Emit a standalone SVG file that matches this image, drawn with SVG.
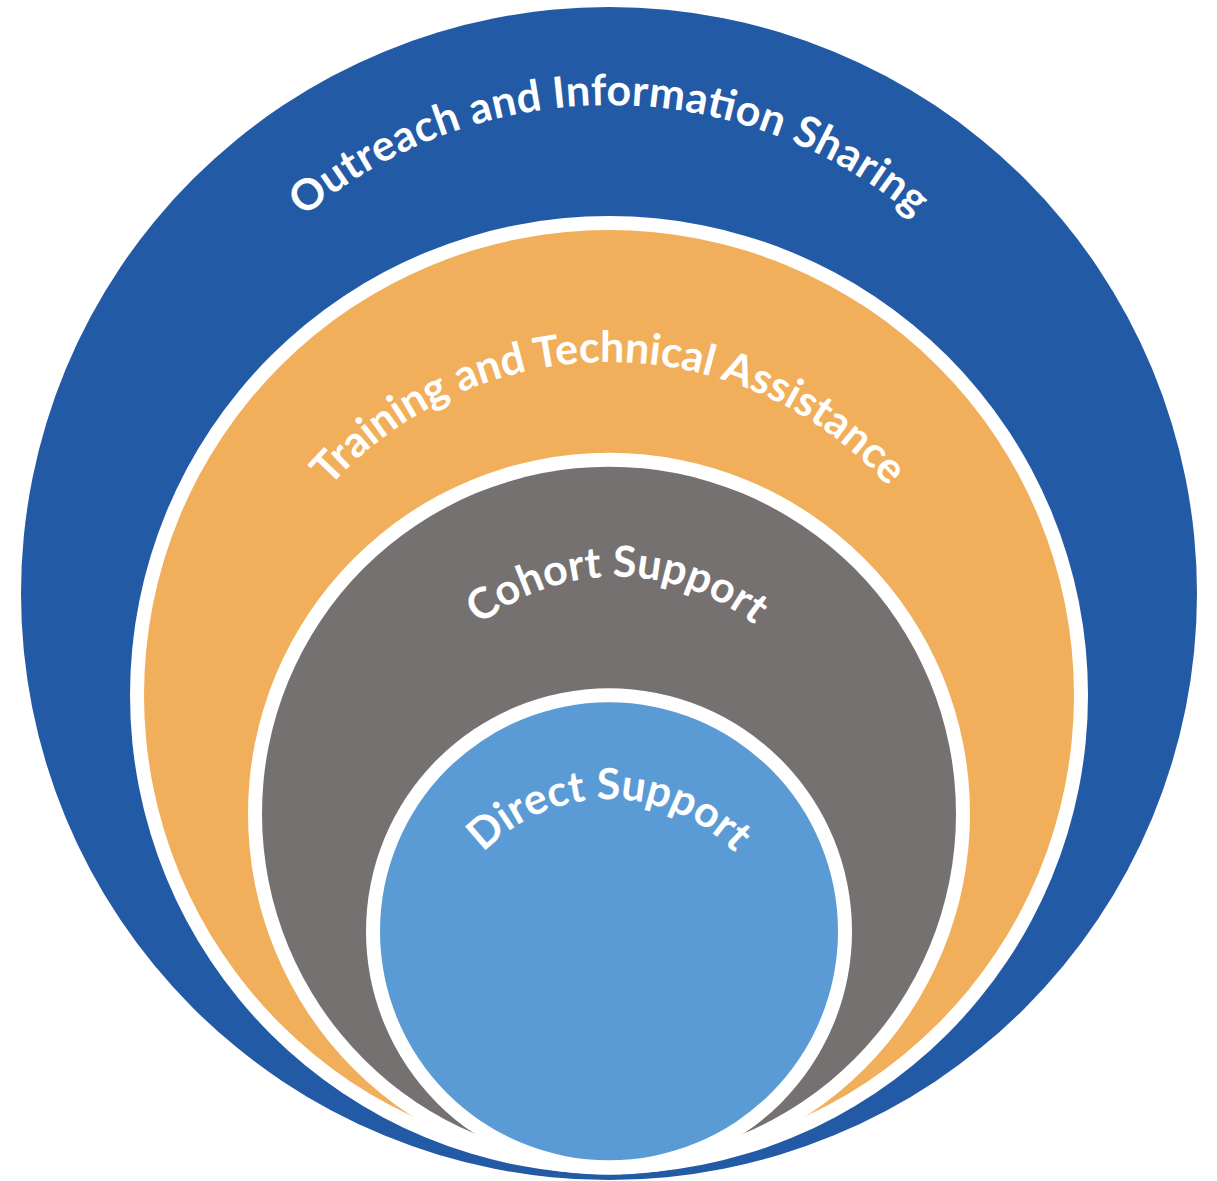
<svg xmlns="http://www.w3.org/2000/svg" width="1217" height="1181" viewBox="0 0 1217 1181">
<style>
.lbl{font-family:Lato,"Open Sans","Liberation Sans",sans-serif;font-weight:700;fill:#ffffff;}
.ring{fill:#ffffff;}
</style>
<defs>
<path id="arc1" d="M 144.2 495 A 472 472 0 0 1 1073.8 495"/>
<path id="arc2" d="M 239.7 671.9 A 375 375 0 0 1 978.3 671.9"/>
<path id="arc3" d="M 400.3 758.8 A 220 220 0 0 1 833.7 758.8"/>
<path id="arc4" d="M 437.1 943.7 A 174.5 174.5 0 0 1 780.9 943.7"/>
</defs>
<rect width="1217" height="1181" fill="#ffffff"/>
<g id="outreach">
<ellipse cx="609" cy="593.5" rx="588" ry="586.5" fill="#235AA6"/>
<text class="lbl" font-size="43"><textPath href="#arc1" startOffset="50%" text-anchor="middle" textLength="664" lengthAdjust="spacing">Outreach and Information Sharing</textPath></text>
</g>
<g id="training">
<circle class="ring" cx="609" cy="695" r="479"/>
<circle cx="609" cy="695" r="465" fill="#F2AF5B"/>
<text class="lbl" font-size="43"><textPath href="#arc2" startOffset="50%" text-anchor="middle" textLength="630" lengthAdjust="spacing">Training and Technical Assistance</textPath></text>
</g>
<g id="cohort">
<circle class="ring" cx="609" cy="813.7" r="361"/>
<circle cx="609" cy="813.7" r="347" fill="#767171"/>
<text class="lbl" font-size="43"><textPath href="#arc3" startOffset="50%" text-anchor="middle" textLength="297" lengthAdjust="spacing">Cohort Support</textPath></text>
</g>
<g id="direct">
<circle class="ring" cx="609" cy="931.3" r="243"/>
<circle cx="609" cy="931.3" r="229" fill="#5B9BD5"/>
<text class="lbl" font-size="43"><textPath href="#arc4" startOffset="50%" text-anchor="middle" textLength="281" lengthAdjust="spacing">Direct Support</textPath></text>
</g>
<g id="connectors"/>
</svg>
